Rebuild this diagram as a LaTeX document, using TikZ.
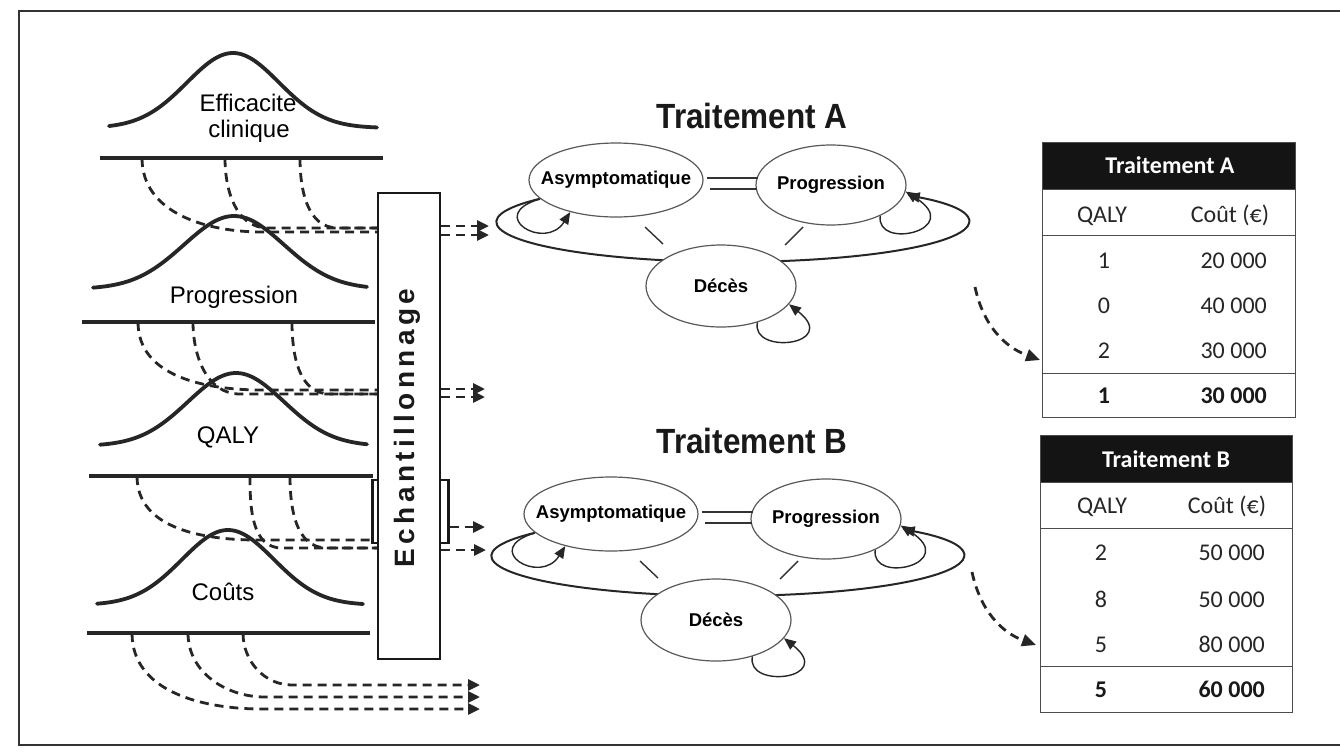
\documentclass[tikz,border=0pt]{standalone}
\usepackage{fontspec}
\usepackage{graphicx}
\setmainfont{Liberation Sans}
\newfontfamily\tabfont{Carlito}
\newfontfamily\spacedfont[LetterSpace=16]{Liberation Sans}
\usetikzlibrary{shapes.geometric,arrows.meta}

\tikzset{
  frameline/.style={line width=1.2pt, draw=black!80},
  bell/.style={line width=3.8pt, draw=black!85, line cap=round},
  baseline/.style={line width=3.4pt, draw=black!85},
  samp/.style={dash pattern=on 9pt off 6pt, line width=2.8pt, draw=black!85},
  samparrow/.style={samp, -{Triangle[length=12pt,width=11pt]}},
  distlabel/.style={font=\fontsize{24}{26}\selectfont, text=black, inner sep=0pt},
  sampbox/.style={draw=black!90, line width=2.2pt, fill=white, inner sep=0pt},
  state/.style={ellipse, draw=black!65, line width=1.2pt, fill=white, inner sep=0pt,
                font=\bfseries\fontsize{18.5}{20}\selectfont},
  bigloop/.style={line width=2pt, draw=black!85, -{Triangle[length=12pt,width=10pt]}},
  selfloop/.style={line width=1.4pt, draw=black!85, -{Triangle[length=12pt,width=10pt]}},
  trans/.style={line width=1.4pt, draw=black!80},
  title/.style={font=\bfseries\fontsize{35}{38}\selectfont, text=black!90, inner sep=0pt},
  tabframe/.style={draw=black!70, line width=1pt, inner sep=0pt},
  tabhead/.style={fill=black!92, draw=black!70, line width=1pt, inner sep=0pt},
  tabline/.style={draw=black!70, line width=1pt},
  tabtxt/.style={font=\tabfont\fontsize{24}{26}\selectfont, text=black!85, inner sep=0pt},
  tabbold/.style={font=\tabfont\bfseries\fontsize{24}{26}\selectfont, text=black!90, inner sep=0pt},
  tabhtxt/.style={font=\tabfont\bfseries\fontsize{24}{26}\selectfont, text=white, inner sep=0pt},
  tabarrow/.style={dash pattern=on 9pt off 6pt, line width=2.8pt, draw=black!85,
                   -{Triangle[length=14pt,width=12pt]}}
}

\newcommand{\MarkovModel}[1]{%
  \draw[bigloop] (539,-199) arc[start angle=145, end angle=402, x radius=236, y radius=40];
  \node[state, minimum width=174, minimum height=74] (asym#1) at (616,-180) {\makebox[0pt]{Asymptomatique}};
  \node[state, minimum width=150, minimum height=80] (prog#1) at (831,-185) {\makebox[0pt]{Progression}};
  \node[state, minimum width=150, minimum height=82] (dec#1) at (721,-286) {\makebox[0pt]{Décès}};
  \draw[selfloop] (asym#1.194) .. controls +(-56,-16) and +(-25,-40) .. (asym#1.215);
  \draw[selfloop] (prog#1.-32) .. controls +(-5,-35) and +(60,-38) .. (prog#1.-5);
  \draw[selfloop] (dec#1.-45) .. controls +(-7,-33) and +(52,-41) .. (dec#1.-15);
  \draw[trans] (645,-227) -- (663,-244);
  \draw[trans] (803,-227) -- (785,-245);
  \draw[trans] (707,-178) -- (758,-178);
  \draw[trans] (710,-189) -- (757,-189);
}

\begin{document}
\begin{tikzpicture}[x=1pt,y=1pt]
\useasboundingbox (0,0) rectangle (1340,-753);
\fill[white] (0,0) rectangle (1340,-753);

% frame
\draw[frameline] (1340,-11) -- (19,-11) -- (19,-745) -- (1340,-745);

% ---------- distributions ----------
\draw[bell] plot[domain=109:377, samples=90, smooth] (\x,{-128+75*exp(-0.5*((\x-233)/46)*((\x-233)/46))});
\node[distlabel] (lEff1) at (248,-103) {Efficacite};
\node[distlabel] (lEff2) at (249,-131) {clinique};
\draw[baseline] (100,-158) -- (383,-158);

\draw[bell] plot[domain=93:367, samples=90, smooth] (\x,{-289+73*exp(-0.5*((\x-234)/50)*((\x-234)/50))});
\node[distlabel] (lProg) at (234,-297) {Progression};
\draw[baseline] (82,-322) -- (375,-322);

\draw[bell] plot[domain=100:367, samples=90, smooth] (\x,{-446+73*exp(-0.5*((\x-236)/48)*((\x-236)/48))});
\node[distlabel] (lQaly) at (228,-437) {QALY};
\draw[baseline] (89,-476) -- (373,-476);

\draw[bell] plot[domain=97:363, samples=90, smooth] (\x,{-605+75*exp(-0.5*((\x-228)/46)*((\x-228)/46))});
\node[distlabel] (lCout) at (223,-592) {Coûts};
\draw[baseline] (87,-633) -- (370,-633);

% ---------- sampling box ----------
\node[sampbox, minimum width=76, minimum height=63] (sbox) at (410.5,-511.5) {};
\node[sampbox, minimum width=62, minimum height=466] (box) at (409,-426) {};
\node[rotate=90, inner sep=0pt, font=\spacedfont\bfseries\fontsize{28}{30}\selectfont, text=black!90] (boxtext) at (407,-428) {Echantillonnage};

% tick coordinates
\coordinate (e1) at (142,-158); \coordinate (e2) at (225,-158); \coordinate (e3) at (300,-158);
\coordinate (p1) at (138,-322); \coordinate (p2) at (193,-322); \coordinate (p3) at (292,-322);
\coordinate (q1) at (137,-476); \coordinate (q2) at (250,-476); \coordinate (q3) at (290,-476);
\coordinate (c1) at (132,-633); \coordinate (c2) at (188,-633); \coordinate (c3) at (243,-633);

% Efficacite arcs
\draw[samp] (e1) to[out=-90,in=180] (262,-232) -- (box.west |- 0,-232);
\draw[samp] (e2) to[out=-90,in=180] (268,-228) -- (box.west |- 0,-228);
\draw[samp] (e3) to[out=-90,in=180] (338,-228) -- (box.west |- 0,-228);
% Progression arcs
\draw[samp] (p1) to[out=-90,in=180] (262,-390) -- (box.west |- 0,-390);
\draw[samp] (p2) to[out=-90,in=180] (240,-394) -- (box.west |- 0,-394);
\draw[samp] (p3) to[out=-90,in=180] (330,-394) -- (box.west |- 0,-394);
% QALY arcs
\draw[samp] (q1) to[out=-90,in=180] (258,-540) -- (sbox.west |- 0,-540);
\draw[samp] (q2) to[out=-90,in=180] (282,-548) -- (box.west |- 0,-548);
\draw[samp] (q3) to[out=-90,in=180] (327,-548) -- (box.west |- 0,-548);
% Couts arcs
\coordinate (ce1) at (480,-709); \coordinate (ce2) at (480,-697); \coordinate (ce3) at (480,-685);
\draw[samparrow] (c1) to[out=-90,in=180] (262,-709) -- (ce1);
\draw[samparrow] (c2) to[out=-90,in=180] (265,-697) -- (ce2);
\draw[samparrow] (c3) to[out=-90,in=180] (292,-685) -- (ce3);

% arrows out of the box
\coordinate (a1) at (489,-226); \coordinate (a2) at (489,-235);
\coordinate (a3) at (485,-389); \coordinate (a4) at (485,-397);
\coordinate (a5) at (485,-527); \coordinate (a6) at (486,-550);
\draw[samparrow] (box.east |- a1) -- (a1);
\draw[samparrow] (box.east |- a2) -- (a2);
\draw[samparrow] (box.east |- a3) -- (a3);
\draw[samparrow] (box.east |- a4) -- (a4);
\draw[samparrow] (sbox.east |- a5) -- (a5);
\draw[samparrow] (box.east |- a6) -- (a6);

% ---------- Markov models ----------
\node[title] (titA) at (752,-116) {\scalebox{0.9}[1]{Traitement A}};
\MarkovModel{A}
\node[title] (titB) at (752,-441) {\scalebox{0.9}[1]{Traitement B}};
\begin{scope}[shift={(-5,-334)}]
\MarkovModel{B}
\end{scope}

% ---------- Table A ----------
\node[tabframe, minimum width=253, minimum height=275, anchor=north west] (tabA) at (1042,-142) {};
\node[tabhead, minimum width=253, minimum height=47, anchor=north west] (hdA) at (1042,-142) {};
\node[tabhtxt, anchor=base] (hdAt) at (1170,-173) {Traitement A};
\draw[tabline] (tabA.west |- 0,-235) -- (tabA.east |- 0,-235);
\draw[tabline] (tabA.west |- 0,-373) -- (tabA.east |- 0,-373);
\node[tabtxt, anchor=base] (qA) at (1102,-222) {QALY};
\node[tabtxt, anchor=base] (cA) at (1230,-222) {Coût (€)};
\node[tabtxt, anchor=base] (qA1) at (1104,-268) {1};
\node[tabtxt, anchor=base east] (cA1) at (1267,-268) {20 000};
\node[tabtxt, anchor=base] (qA2) at (1104,-313) {0};
\node[tabtxt, anchor=base east] (cA2) at (1267,-313) {40 000};
\node[tabtxt, anchor=base] (qA3) at (1104,-358) {2};
\node[tabtxt, anchor=base east] (cA3) at (1267,-358) {30 000};
\node[tabbold, anchor=base] (qA4) at (1104,-403) {1};
\node[tabbold, anchor=base east] (cA4) at (1267,-403) {30 000};

% ---------- Table B ----------
\node[tabframe, minimum width=252, minimum height=277, anchor=north west] (tabB) at (1040,-435) {};
\node[tabhead, minimum width=252, minimum height=47, anchor=north west] (hdB) at (1040,-435) {};
\node[tabhtxt, anchor=base] (hdBt) at (1166,-467) {Traitement B};
\draw[tabline] (tabB.west |- 0,-528) -- (tabB.east |- 0,-528);
\draw[tabline] (tabB.west |- 0,-666) -- (tabB.east |- 0,-666);
\node[tabtxt, anchor=base] (qB) at (1102,-513) {QALY};
\node[tabtxt, anchor=base] (cB) at (1227,-513) {Coût (€)};
\node[tabtxt, anchor=base] (qB1) at (1101,-560) {2};
\node[tabtxt, anchor=base east] (cB1) at (1265,-560) {50 000};
\node[tabtxt, anchor=base] (qB2) at (1101,-607) {8};
\node[tabtxt, anchor=base east] (cB2) at (1265,-607) {50 000};
\node[tabtxt, anchor=base] (qB3) at (1101,-652) {5};
\node[tabtxt, anchor=base east] (cB3) at (1265,-652) {80 000};
\node[tabbold, anchor=base] (qB4) at (1101,-697) {5};
\node[tabbold, anchor=base east] (cB4) at (1265,-697) {60 000};

% ---------- arrows to tables ----------
\coordinate (sA) at (975,-287); \coordinate (tAin) at (1040,-360);
\coordinate (sB) at (972,-572); \coordinate (tBin) at (1036,-645);
\draw[tabarrow] (sA) to[out=-78,in=160] (tAin);
\draw[tabarrow] (sB) to[out=-78,in=160] (tBin);
\end{tikzpicture}
\end{document}
